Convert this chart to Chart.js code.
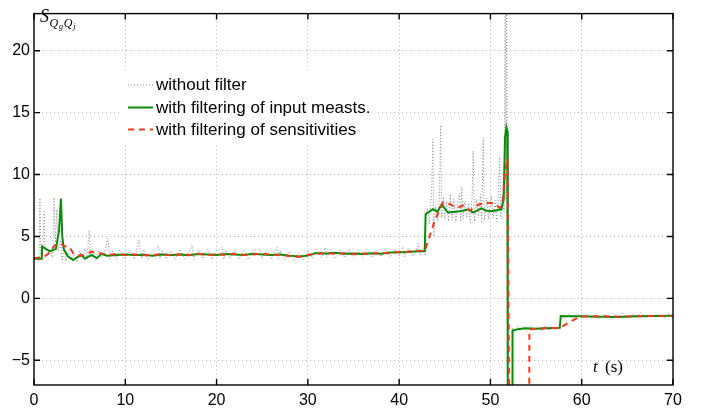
<!DOCTYPE html>
<html>
<head>
<meta charset="utf-8">
<script src="https://cdn.jsdelivr.net/npm/chart.js@4.4.1/dist/chart.umd.min.js"></script>
<style>
  html, body { margin: 0; padding: 0; background: #fff; }
  #wrap { width: 710px; height: 413px; }
</style>
</head>
<body>
<div id="wrap"><canvas id="sens" width="710" height="413"></canvas></div>
<script>
// time axis (s) and sensitivity axis ticks
const xTicks = [0, 10, 20, 30, 40, 50, 60, 70];
const yTicks = [-5, 0, 5, 10, 15, 20];

const legendLabels = [
    'without filter',
    'with filtering of input measts.',
    'with filtering of sensitivities'
];

// [t, S] samples, unfiltered estimate
const rawSens = [
    [0, 3.1], [0.3, 3.3], [0.55, 3.0], [0.65, 8.1], [0.75, 3.5], [1.0, 4.5], [1.1, 7.0], [1.2, 4.0],
    [1.5, 3.6], [1.8, 3.9], [2.05, 3.3], [2.2, 8.15], [2.35, 4.5], [2.5, 7.2], [2.65, 3.8], [2.9, 4.7],
    [3.1, 2.9], [3.3, 4.2], [3.5, 3.0], [3.8, 3.8], [4.1, 3.2], [4.4, 3.6], [4.7, 2.9], [5.0, 3.8],
    [5.3, 3.3], [5.6, 4.0], [5.8, 3.2], [6.05, 5.5], [6.2, 3.4], [6.5, 3.7], [6.8, 3.1], [7.1, 3.9],
    [7.4, 3.3], [7.7, 3.6], [8.1, 4.85], [8.3, 3.2], [8.6, 3.85], [9.0, 3.15], [9.4, 3.9], [9.8, 3.2],
    [10, 3.3], [10.5, 3.9], [11, 3.15], [11.5, 4.7], [11.75, 3.2], [12, 3.95], [12.5, 3.1], [13, 3.8],
    [13.6, 4.3], [13.8, 3.15], [14, 3.9], [14.5, 3.2], [15, 3.85], [15.5, 3.15], [16, 3.95], [16.5, 3.2],
    [17, 3.8], [17.3, 4.3], [17.5, 3.15], [18, 3.9], [18.5, 3.2], [19, 3.95], [19.5, 3.15], [20, 3.8],
    [20.6, 4.15], [20.8, 3.15], [21, 3.9], [21.5, 3.2], [22, 3.95], [22.5, 3.15], [23, 3.85], [23.5, 3.1],
    [24, 3.9], [24.75, 3.98], [25, 3.2], [25.5, 3.9], [26, 3.15], [26.6, 4.15], [26.8, 3.2], [27, 3.85],
    [27.5, 3.1], [28, 3.8], [28.5, 3.05], [29, 3.7], [29.5, 3.1], [30, 3.8], [30.5, 3.25], [31, 3.95],
    [31.5, 3.3], [31.9, 4.1], [32.1, 3.3], [32.5, 3.95], [33, 3.25], [33.5, 3.95], [34, 3.3], [34.5, 3.95],
    [35, 3.25], [35.5, 3.9], [36, 3.3], [36.5, 4.0], [37, 3.3], [37.5, 3.95], [38, 3.35], [38.5, 4.05],
    [39, 3.3], [39.5, 4.0], [40, 3.4], [40.4, 4.15], [40.6, 3.35], [41, 4.05], [41.5, 3.4], [42, 4.1],
    [42.1, 4.43], [42.3, 3.5], [42.6, 4.0], [42.85, 3.45], [42.95, 6.5], [43.1, 7.3], [43.3, 6.0],
    [43.55, 8.5], [43.7, 12.85], [43.8, 5.0], [44.0, 7.5], [44.2, 6.2], [44.4, 8.0], [44.55, 14.0],
    [44.65, 6.5], [44.85, 8.2], [45.0, 6.4], [45.2, 7.8], [45.4, 6.2], [45.6, 8.4], [45.8, 6.3],
    [46.0, 8.0], [46.2, 6.1], [46.4, 7.6], [46.6, 8.5], [46.75, 6.2], [46.85, 9.0], [47.0, 6.4],
    [47.2, 7.85], [47.4, 6.5], [47.6, 7.7], [47.8, 6.0], [48.0, 8.3], [48.1, 11.9], [48.25, 6.2],
    [48.5, 8.0], [48.7, 6.5], [48.9, 8.4], [49.05, 6.2], [49.2, 12.96], [49.35, 6.3], [49.6, 8.1],
    [49.8, 6.4], [50.1, 8.3], [50.3, 6.5], [50.5, 7.9], [50.7, 6.2], [50.85, 8.0], [51.0, 11.4],
    [51.15, 6.4], [51.35, 8.5], [51.5, 7.0], [51.62, 30], [51.7, 8], [51.78, 30], [51.9, -9],
    [52.35, -9], [52.45, -2.4], [52.7, -2.65], [53.0, -2.2], [53.3, -2.6], [53.6, -2.25], [54, -2.65],
    [54.4, -2.2], [54.8, -2.6], [55.2, -2.25], [55.6, -2.65], [56, -2.2], [56.4, -2.6], [56.8, -2.25],
    [57.2, -2.55], [57.6, -2.2], [57.75, -1.4], [58.2, -1.65], [58.6, -1.25], [59, -1.6], [59.5, -1.2],
    [60, -1.6], [60.5, -1.25], [61, -1.65], [61.5, -1.3], [62, -1.65], [62.5, -1.25], [63, -1.7],
    [63.5, -1.3], [64, -1.6], [64.5, -1.2], [65, -1.65], [65.5, -1.25], [66, -1.55], [66.5, -1.15],
    [67, -1.6], [67.5, -1.25], [68, -1.55], [68.5, -1.2], [69, -1.6], [69.5, -1.25], [70, -1.4]
];

// [t, S] with filtered input measurements
const inputFiltered = [
    [0, 3.2], [0.85, 3.2], [0.9, 4.2], [1.3, 4.0], [1.75, 3.8], [2.4, 4.0], [2.75, 5.5], [2.95, 8.05],
    [3.1, 5.0], [3.25, 4.0], [3.7, 3.4], [4.3, 3.1], [4.8, 3.35], [5.2, 3.5], [5.6, 3.2], [6.3, 3.5],
    [6.9, 3.25], [7.4, 3.6], [8, 3.45], [9, 3.5], [10, 3.55], [11, 3.5], [12, 3.52], [13, 3.45],
    [14, 3.55], [15, 3.5], [16, 3.55], [17, 3.48], [18, 3.58], [19, 3.55], [20, 3.5], [21, 3.58],
    [22, 3.55], [23, 3.5], [24, 3.6], [25, 3.55], [26, 3.5], [27, 3.55], [28, 3.45], [29, 3.38],
    [30, 3.45], [30.8, 3.65], [32, 3.62], [33, 3.68], [34, 3.6], [35, 3.62], [36, 3.58], [37, 3.65],
    [38, 3.6], [39, 3.7], [40, 3.72], [41, 3.75], [42, 3.8], [42.8, 3.8], [42.9, 6.8], [43.7, 7.2],
    [44.2, 7.0], [44.65, 7.58], [45.35, 6.93], [45.9, 6.97], [46.65, 7.03], [47.1, 7.1], [47.6, 7.19],
    [48.1, 6.93], [49.0, 7.27], [49.5, 7.1], [49.95, 7.03], [50.6, 7.1], [51.2, 7.19], [51.45, 8],
    [51.6, 13.0], [51.75, 13.8], [51.85, 13.5], [51.9, -9], [52.4, -9], [52.42, -2.6], [53, -2.5],
    [53.8, -2.42], [55, -2.45], [56, -2.42], [57, -2.4], [57.6, -2.38], [57.7, -1.42], [59, -1.45],
    [60, -1.45], [62, -1.48], [64, -1.5], [66, -1.45], [68, -1.42], [70, -1.4]
];

// [t, S] with filtered sensitivities
const sensFiltered = [
    [0, 3.25], [1.0, 3.3], [1.57, 3.6], [2.3, 4.3], [2.95, 4.43], [3.4, 4.2], [3.87, 4.17], [4.3, 3.65],
    [4.8, 3.45], [5.4, 3.46], [6.3, 3.78], [7.2, 3.65], [8.3, 3.5], [9, 3.58], [10, 3.5], [11, 3.55],
    [12, 3.48], [13, 3.5], [14, 3.58], [15, 3.48], [16, 3.55], [17, 3.5], [18, 3.6], [19, 3.5],
    [20, 3.55], [21, 3.52], [22, 3.6], [23, 3.5], [24, 3.55], [25, 3.6], [26, 3.52], [27, 3.5],
    [28, 3.42], [29, 3.35], [30, 3.5], [31, 3.6], [32, 3.65], [33, 3.6], [34, 3.65], [35, 3.58],
    [36, 3.62], [37, 3.6], [38, 3.68], [39, 3.65], [40, 3.75], [41, 3.78], [42, 3.85], [42.8, 3.8],
    [43.9, 6.27], [44.8, 7.74], [45.6, 7.6], [46.3, 7.3], [47.0, 7.5], [47.75, 7.08], [48.7, 7.58],
    [49.6, 7.72], [50.5, 7.67], [51.0, 7.3], [51.3, 7.5], [51.6, 10.2], [51.9, 11.3], [52.05, -9],
    [54.25, -9], [54.27, -2.5], [55, -2.45], [56, -2.42], [57, -2.4], [57.6, -2.4], [58.7, -1.9],
    [59.8, -1.47], [62, -1.45], [64, -1.48], [66, -1.45], [68, -1.42], [70, -1.42]
];

const toXY = arr => arr.map(([t, s]) => ({ x: t, y: s }));
const sans = '"Liberation Sans", Arial, Helvetica, sans-serif';
const tickFont = { family: sans, size: 16 };

// matlab-like box with inward ticks on all four sides
const boxPlugin = {
    id: 'box',
    afterDatasetsDraw(chart) {
        const { ctx, chartArea: a, scales } = chart;
        ctx.save();
        ctx.strokeStyle = '#000';
        ctx.lineWidth = 1.4;
        ctx.strokeRect(a.left, a.top, a.right - a.left, a.bottom - a.top);
        ctx.beginPath();
        xTicks.forEach(v => {
            const px = scales.x.getPixelForValue(v);
            ctx.moveTo(px, a.bottom); ctx.lineTo(px, a.bottom - 6);
            ctx.moveTo(px, a.top); ctx.lineTo(px, a.top + 6);
        });
        yTicks.forEach(v => {
            const py = scales.y.getPixelForValue(v);
            ctx.moveTo(a.left, py); ctx.lineTo(a.left + 6, py);
            ctx.moveTo(a.right, py); ctx.lineTo(a.right - 6, py);
        });
        ctx.stroke();
        ctx.restore();
    }
};

// legend drawn inside the axes on a white patch
const innerLegend = {
    id: 'innerLegend',
    afterDraw(chart) {
        const { ctx } = chart;
        ctx.save();
        ctx.fillStyle = '#fff';
        ctx.fillRect(122, 70, 256, 75);
        const rows = [85, 107.5, 129.5];
        ctx.font = '17px ' + sans;
        ctx.textBaseline = 'middle';
        chart.data.datasets.forEach((ds, i) => {
            const y = rows[i];
            ctx.strokeStyle = ds.borderColor;
            ctx.lineWidth = ds.borderWidth;
            ctx.setLineDash(ds.borderDash || []);
            ctx.beginPath();
            ctx.moveTo(128, y);
            ctx.lineTo(153, y);
            ctx.stroke();
            ctx.setLineDash([]);
            ctx.fillStyle = '#000';
            ctx.fillText(legendLabels[i], 156, y + 0.5);
        });

        // axis symbols
        ctx.textBaseline = 'alphabetic';
        const serif = '"Liberation Serif", "DejaVu Serif", serif';
        let x = 40;
        ctx.font = 'italic 18px ' + serif;
        ctx.fillText('S', x, 22);
        x += ctx.measureText('S').width + 0.5;
        const parts = [['Q', 12, 26.5], ['g', 8, 29], ['Q', 12, 26.5], ['j', 8, 29]];
        parts.forEach(([s, size, base]) => {
            ctx.font = 'italic ' + size + 'px ' + serif;
            ctx.fillText(s, x, base);
            x += ctx.measureText(s).width + 0.8;
        });

        ctx.font = 'italic 17px ' + serif;
        ctx.fillText('t', 593, 372);
        ctx.font = '17px ' + serif;
        ctx.fillText('(s)', 605, 372);
        ctx.restore();
    }
};

new Chart(document.getElementById('sens'), {
    type: 'line',
    data: {
        datasets: [
            {
                label: legendLabels[0],
                data: toXY(rawSens),
                borderColor: '#8c8c8c',
                borderWidth: 1,
                borderDash: [1, 2],
                order: 3
            },
            {
                label: legendLabels[1],
                data: toXY(inputFiltered),
                borderColor: '#0b8a0b',
                borderWidth: 2,
                order: 2
            },
            {
                label: legendLabels[2],
                data: toXY(sensFiltered),
                borderColor: '#ec3a1c',
                borderWidth: 2,
                borderDash: [6, 5],
                order: 1
            }
        ]
    },
    options: {
        responsive: false,
        animation: false,
        devicePixelRatio: 1,
        layout: { padding: { top: 4, right: 37, left: 0, bottom: 0 } },
        elements: {
            point: { radius: 0 },
            line: { tension: 0 }
        },
        datasets: { line: { clip: 0 } },
        plugins: {
            legend: { display: false },
            tooltip: { enabled: false }
        },
        scales: {
            x: {
                type: 'linear',
                min: 0,
                max: 70,
                afterBuildTicks: s => { s.ticks = xTicks.map(v => ({ value: v })); },
                afterFit: s => { s.height = 28; },
                grid: { color: '#b0b0b0', lineWidth: 1, drawTicks: false },
                border: { display: false, dash: [1, 3] },
                ticks: { font: tickFont, color: '#000', padding: 6, maxRotation: 0, autoSkip: false }
            },
            y: {
                type: 'linear',
                min: -7,
                max: 23,
                afterBuildTicks: s => { s.ticks = yTicks.map(v => ({ value: v })); },
                afterFit: s => { s.width = 34; },
                grid: { color: '#b0b0b0', lineWidth: 1, drawTicks: false },
                border: { display: false, dash: [1, 3] },
                ticks: {
                    font: tickFont,
                    color: '#000',
                    padding: 4,
                    callback: v => String(v).replace('-', '\u2212')
                }
            }
        }
    },
    plugins: [boxPlugin, innerLegend]
});
</script>
</body>
</html>
